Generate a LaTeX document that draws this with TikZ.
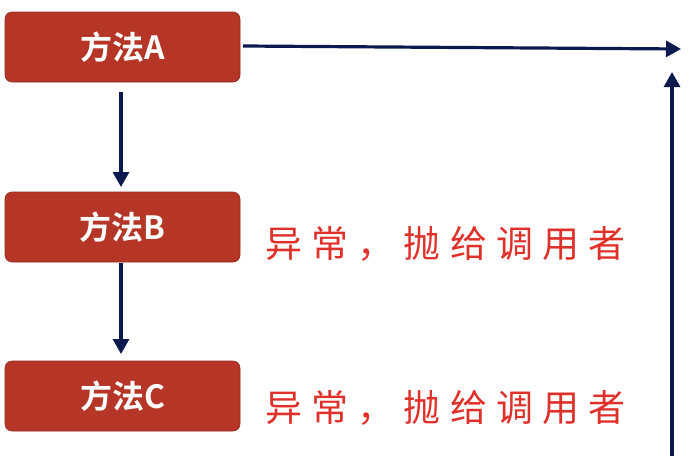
\documentclass[tikz,border=0pt]{standalone}
\usepackage{fontspec}
\newfontfamily\cjk{Noto Sans CJK SC}
\newfontfamily\cjkbold{Noto Sans CJK SC Bold}
\usetikzlibrary{arrows.meta}
\definecolor{boxred}{HTML}{B53626}
\definecolor{txtred}{HTML}{E0302A}
\definecolor{navy}{HTML}{0B1A4E}
\tikzset{
  method/.style={draw=boxred!80!black, line width=0.6pt, fill=boxred, rounded corners=7pt, minimum width=235pt, minimum height=70pt, inner sep=0pt, text=white, font=\fontsize{32}{34}\selectfont\cjkbold},
  note/.style={text=txtred, anchor=west, inner sep=0pt, font=\fontsize{37}{40}\selectfont\cjk\addfontfeatures{LetterSpace=25}},
  conn/.style={draw=navy, line width=3.2pt, -{Triangle[length=15pt,width=16pt]}}
}
\begin{document}
\begin{tikzpicture}[x=1pt,y=-1pt]
\useasboundingbox (0,0) rectangle (691,471);
\node[method] (A) at (122.5,47) {方法A};
\node[method] (B) at (122.5,227) {方法B};
\node[method] (C) at (122.5,396) {方法C};
\node[note] (nB) at (265,244) {异常，抛给调用者};
\node[note] (nC) at (265,408) {异常，抛给调用者};
\coordinate (hs) at (243,46);
\coordinate (he) at (681,49);
\coordinate (vs) at (672,456);
\coordinate (ve) at (672,72);
\coordinate (a1) at (121,92);
\coordinate (a2) at (121,187);
\coordinate (b1) at (121,263);
\coordinate (b2) at (121,354);
\draw[conn] (a1) -- (a2);
\draw[conn] (b1) -- (b2);
\draw[conn] (hs) -- (he);
\draw[conn] (vs) -- (ve);
\end{tikzpicture}
\end{document}
